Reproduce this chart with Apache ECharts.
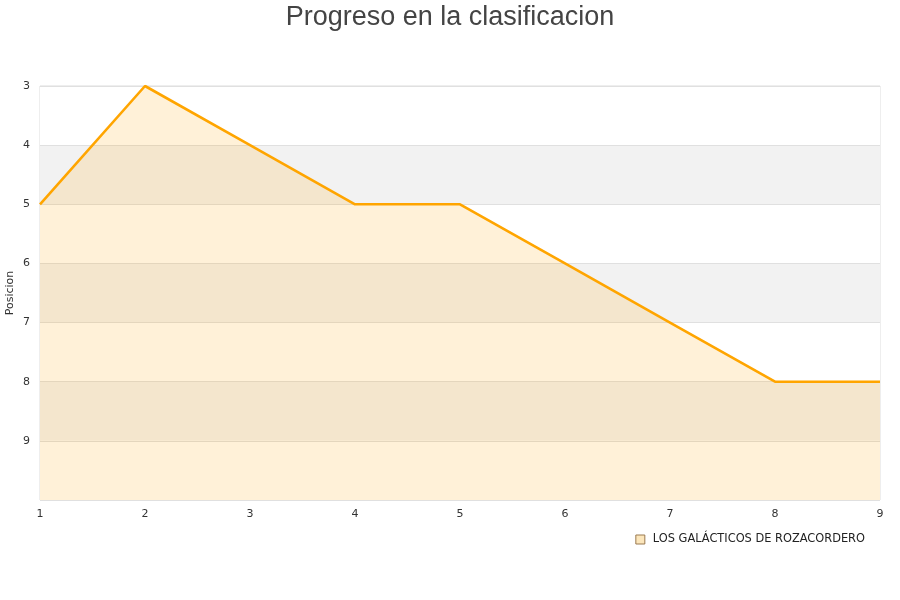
<!DOCTYPE html>
<html><head><meta charset="utf-8">
<script src="https://cdn.jsdelivr.net/npm/echarts@6/dist/echarts.min.js"></script>
<style>html,body{margin:0;padding:0;background:#fff}#c{width:900px;height:600px}</style>
</head><body><div id="c"></div>
<script>
var jornadas = ['1','2','3','4','5','6','7','8','9'];
var posiciones = [5,3,4,5,5,6,7,8,8];
var equipo = 'LOS GALÁCTICOS DE ROZACORDERO';
var titulo = 'Progreso en la clasificacion';

var chart = echarts.init(document.getElementById('c'), null, {renderer:'canvas'});
chart.setOption({
  animation:false,
  title:{text:titulo,left:'center',top:-1,textStyle:{fontFamily:'Liberation Sans, Arial',fontSize:27,fontWeight:'normal',color:'#444'}},
  grid:{left:40,right:20,top:86,bottom:100,show:true,borderColor:'#dddddd',borderWidth:1,containLabel:false,outerBoundsMode:'none'},
  legend:{right:30,top:529,itemWidth:9,itemHeight:9,icon:'rect',
    textStyle:{fontFamily:'DejaVu Sans',fontSize:11.4,color:'#222',padding:[0,0,0,3]},
    data:[{name:equipo,itemStyle:{color:'#fce6bb',borderColor:'#9a7a50',borderWidth:1}}]},
  xAxis:{type:'category',data:jornadas,boundaryGap:false,
    axisLine:{show:false},axisTick:{show:false},
    axisLabel:{fontFamily:'DejaVu Sans',fontSize:11,color:'#333',margin:9},
    splitLine:{show:false}},
  yAxis:{type:'value',inverse:true,min:3,max:10,interval:1,name:'Posicion',nameLocation:'middle',nameGap:24,nameMoveOverlap:false,
    nameTextStyle:{fontFamily:'DejaVu Sans',fontSize:11,color:'#333'},
    axisLine:{show:false},axisTick:{show:false},
    axisLabel:{fontFamily:'DejaVu Sans',fontSize:11,color:'#333',margin:10,formatter:function(v){return v===10?'':v;}},
    splitLine:{show:true,lineStyle:{color:'#e0e0e0',width:1}},
    splitArea:{show:true,areaStyle:{color:['#ffffff','#f2f2f2']}}},
  series:[{name:equipo,type:'line',data:posiciones,showSymbol:false,
    lineStyle:{color:'#ffa500',width:2.6},itemStyle:{color:'#ffa500'},
    areaStyle:{origin:'end',color:'rgba(255,165,0,0.22)'}}]
});
</script></body></html>
